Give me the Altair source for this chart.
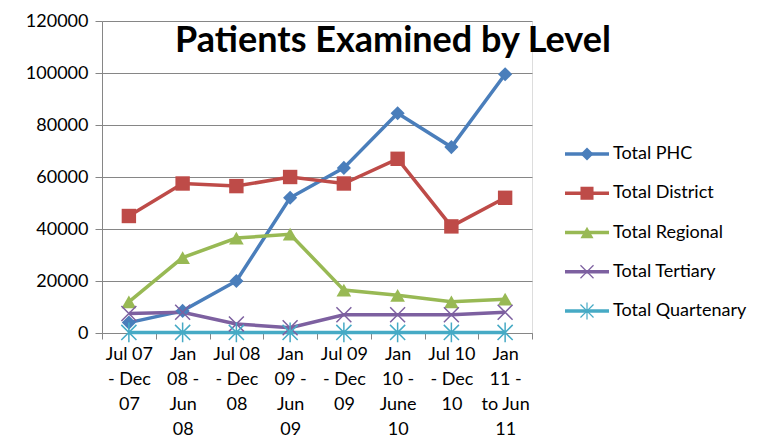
import altair as alt
import pandas as pd

periods = ["Jul 07|- Dec|07", "Jan|08 -|Jun|08", "Jul 08|- Dec|08", "Jan|09 -|Jun|09",
           "Jul 09|- Dec|09", "Jan|10 -|June|10", "Jul 10|- Dec|10", "Jan|11 -|to Jun|11"]
series = ["Total PHC", "Total District", "Total Regional", "Total Tertiary", "Total Quartenary"]
phc = [4000, 8500, 20000, 52000, 63500, 84500, 71500, 99500]
district = [45000, 57500, 56500, 60000, 57500, 67000, 41000, 52000]
regional = [12000, 29000, 36500, 38000, 16500, 14500, 12000, 13000]
tertiary = [7500, 8000, 3500, 2000, 7000, 7000, 7000, 8000]
quartenary = [200, 200, 200, 200, 200, 200, 200, 200]
colors = ["#4A7EBB", "#BE4B48", "#98B954", "#7D60A0", "#46AAC5"]
xpath = "M-1,-1L1,1M-1,1L1,-1"
starpath = "M-1,-1L1,1M-1,1L1,-1M0,-1.3L0,1.3"
shapes = ["diamond", "square", "triangle-up", xpath, starpath]
sizes = [200, 230, 300, 230, 230]

rows = []
for name, vals in zip(series, [phc, district, regional, tertiary, quartenary]):
    for p, v in zip(periods, vals):
        rows.append({"period": p, "series": name, "value": v})
df = pd.DataFrame(rows)
leg = pd.DataFrame({"series": series})

FONT = "Lato"
color = alt.Color("series:N", scale=alt.Scale(domain=series, range=colors), legend=None)
shape = alt.Shape("series:N", scale=alt.Scale(domain=series, range=shapes), legend=None)
size = alt.Size("series:N", scale=alt.Scale(domain=series, range=sizes), legend=None)

x = alt.X("period:N", sort=periods, bandPosition=0.5,
          scale=alt.Scale(type="band", paddingInner=0, paddingOuter=0),
          axis=alt.Axis(title=None, labelExpr="split(datum.label, '|')", labelAngle=0,
                        labelFontSize=18, labelLineHeight=25, labelColor="#000",
                        labelFont=FONT, labelPadding=6, tickBand="extent",
                        tickColor="#868686", tickSize=6, domainColor="#868686",
                        grid=False))
yscale = alt.Scale(domain=[0, 120000])
y = alt.Y("value:Q", scale=yscale,
          axis=alt.Axis(title=None, values=[0, 20000, 40000, 60000, 80000, 100000, 120000],
                        format="d", labelFontSize=18, labelColor="#000", labelFont=FONT,
                        gridColor="#868686", domainColor="#868686", tickColor="#868686",
                        tickSize=7, labelPadding=7))
y_noaxis = alt.Y("value:Q", scale=yscale, axis=None)

base = alt.Chart(df)
lines = base.mark_line(strokeWidth=3.5).encode(x=x, y=y, color=color)
pts_f = base.transform_filter(
    alt.FieldOneOfPredicate(field="series", oneOf=series[:3])
).mark_point(filled=True, opacity=1).encode(x=x, y=y_noaxis, color=color, shape=shape, size=size)
pts_s = base.transform_filter(
    alt.FieldOneOfPredicate(field="series", oneOf=series[3:])
).mark_point(filled=False, opacity=1, strokeWidth=1.5).encode(x=x, y=y_noaxis, color=color, shape=shape, size=size)

ly = alt.Y("series:N", sort=series,
           scale=alt.Scale(type="point", domain=series, range=[133, 290], padding=0), axis=None)
lbase = alt.Chart(leg)
leg_line = lbase.mark_rule(strokeWidth=3.5).encode(
    x=alt.value(463), x2=alt.value(507), y=ly, color=color)
leg_f = lbase.transform_filter(
    alt.FieldOneOfPredicate(field="series", oneOf=series[:3])
).mark_point(filled=True, opacity=1).encode(x=alt.value(485), y=ly, color=color, shape=shape,
                                              size=alt.value(170))
leg_s = lbase.transform_filter(
    alt.FieldOneOfPredicate(field="series", oneOf=series[3:])
).mark_point(filled=False, opacity=1, strokeWidth=1.2).encode(x=alt.value(485), y=ly, color=color,
                                                                shape=shape, size=alt.value(170))
leg_t = lbase.mark_text(align="left", baseline="middle", fontSize=18, font=FONT, color="#000").encode(
    x=alt.value(511), y=ly, text="series:N")

title = alt.Chart(pd.DataFrame({"t": ["Patients Examined by Level"]})).mark_text(
    align="center", baseline="alphabetic", fontSize=36, fontWeight="bold", font=FONT, color="#000"
).encode(x=alt.value(291), y=alt.value(31), text="t:N")

chart = alt.layer(lines, pts_f, pts_s, leg_line, leg_f, leg_s, leg_t, title).resolve_scale(
    y="independent"
).properties(
    width=430, height=312,
    padding={"left": 94, "top": 13, "right": 226, "bottom": 107},
    autosize=alt.AutoSizeParams(type="none"),
).configure_view(stroke=None).configure(background="white")

chart.save("out.html", embed_options={"renderer": "svg", "actions": False})
